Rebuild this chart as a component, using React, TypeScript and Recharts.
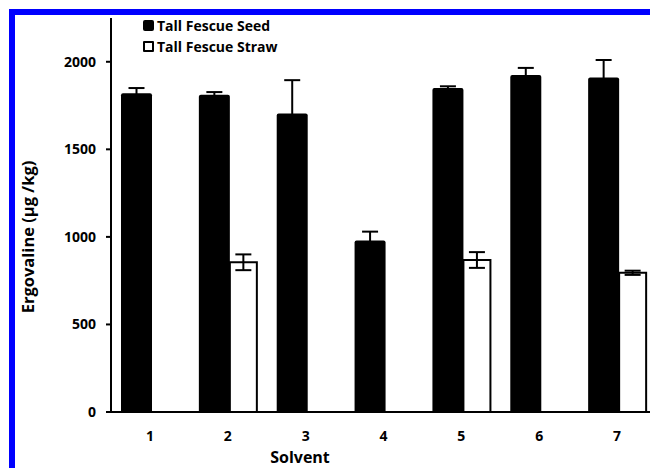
import React from 'react';
import { BarChart, Bar, XAxis, YAxis, ErrorBar, Legend, Label } from 'recharts';

const solvents = ['1', '2', '3', '4', '5', '6', '7'];
const seedValues = [1820, 1812, 1705, 980, 1850, 1925, 1910];
const seedErrors = [30, 15, 190, 50, 10, 40, 100];
const strawValues = [null, 855, null, null, 868, null, 795];
const strawErrors = [null, 45, null, null, 45, null, 12];
const yTicks = [0, 500, 1000, 1500, 2000];

const data = solvents.map((s, i) => ({
  solvent: s,
  seed: seedValues[i],
  seedErr: seedErrors[i],
  straw: strawValues[i],
  strawErr: strawErrors[i],
}));

const FONT = '"Open Sans", "Liberation Sans", sans-serif';

const LegendBox = () => (
  <div style={{ fontFamily: FONT, fontWeight: 700, fontSize: 14, color: '#000', lineHeight: '21px' }}>
    <div style={{ display: 'flex', alignItems: 'center' }}>
      <span style={{ display: 'inline-block', width: 11, height: 11, background: '#000', borderRadius: 2, marginRight: 3 }} />
      Tall Fescue Seed
    </div>
    <div style={{ display: 'flex', alignItems: 'center' }}>
      <span style={{ display: 'inline-block', width: 7, height: 7, background: '#fff', border: '2px solid #000', borderRadius: 1, marginRight: 3 }} />
      Tall Fescue Straw
    </div>
  </div>
);

const YTitle = () => (
  <text
    x={27}
    y={237}
    transform="rotate(-90 27 237)"
    textAnchor="middle"
    dominantBaseline="central"
    style={{ fontFamily: FONT, fontWeight: 700, fontSize: 16.5, fill: '#000' }}
  >
    Ergovaline (µg /kg)
  </text>
);

const XTitle = () => (
  <text
    x={300}
    y={457}
    textAnchor="middle"
    dominantBaseline="central"
    style={{ fontFamily: FONT, fontWeight: 700, fontSize: 16, fill: '#000' }}
  >
    Solvent
  </text>
);

const tickStyle = { fontFamily: FONT, fontWeight: 700, fontSize: 14, fill: '#000' };

export default function App() {
  return (
    <div style={{ position: 'fixed', left: 0, top: 0, width: 650, height: 468, overflow: 'hidden', background: '#fff' }}>
      <BarChart
        width={662}
        height={468}
        data={data}
        margin={{ top: 18, right: 6, left: 0, bottom: 26 }}
        barGap={0}
      >
        <XAxis
          dataKey="solvent"
          axisLine={{ stroke: '#000', strokeWidth: 2 }}
          tickLine={false}
          tickSize={6}
          tickMargin={13}
          tick={tickStyle}
          height={30}
        >
          <Label content={<XTitle />} />
        </XAxis>
        <YAxis
          domain={[0, 2250]}
          ticks={yTicks}
          width={111}
          axisLine={{ stroke: '#000', strokeWidth: 2 }}
          tickLine={{ stroke: '#000', strokeWidth: 2 }}
          tickSize={5}
          tickMargin={10}
          tick={tickStyle}
        >
          <Label content={<YTitle />} />
        </YAxis>
        <Legend
          content={<LegendBox />}
          layout="horizontal"
          verticalAlign="middle"
          align="center"
          wrapperStyle={{ left: 143, top: 15, width: 200 }}
        />
        <Bar dataKey="seed" fill="#000" barSize={31} radius={[2, 2, 0, 0]} isAnimationActive={false}>
          <ErrorBar dataKey="seedErr" width={8} strokeWidth={2} stroke="#000" />
        </Bar>
        <Bar dataKey="straw" fill="#fff" stroke="#000" strokeWidth={2} barSize={27} isAnimationActive={false}>
          <ErrorBar dataKey="strawErr" width={8} strokeWidth={2} stroke="#000" />
        </Bar>
      </BarChart>
      <div
        style={{
          position: 'absolute',
          left: 9,
          top: 9,
          width: 1000,
          height: 1000,
          borderLeft: '6px solid #0000ff',
          borderTop: '6px solid #0000ff',
          pointerEvents: 'none',
        }}
      />
    </div>
  );
}
